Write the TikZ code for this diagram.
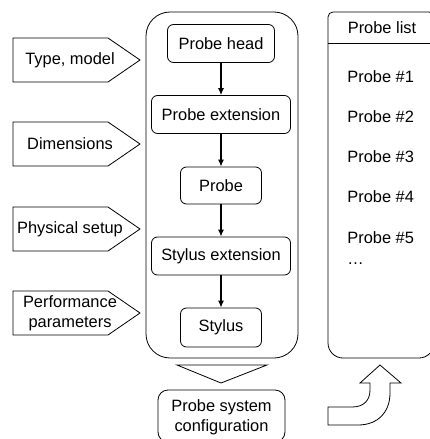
\documentclass[tikz,border=0pt]{standalone}
\usepackage{fontspec}
\setmainfont{Liberation Sans}
\usetikzlibrary{arrows.meta}
\begin{document}
\begin{tikzpicture}[x=1pt,y=-1pt,line width=0.8pt,
  txt/.style={font=\fontsize{16.4}{19.8}\selectfont, inner sep=0pt, align=center},
  part/.style={txt, draw, rounded corners=6pt},
  flow/.style={line width=1.2pt, -{Latex[length=7pt,width=6pt]}},
  listitem/.style={txt, anchor=west}]
\useasboundingbox (0,0) rectangle (430,439);
\clip (0,0) rectangle (430,439);

% input arrows (pentagons)
\foreach \t/\nm/\lab in {38/ta/{Type, model},122/tb/Dimensions,207/tc/{Physical setup},291/td/{Performance\\parameters}}{
  \draw (13,\t) -- (108,\t) -- (140,\t+22) -- (108,\t+44) -- (13,\t+44) -- cycle;
  \node[txt] (\nm) at (70,\t+22) {\lab};
}

% main container
\draw[rounded corners=24pt] (146,12) rectangle (298,358);

% parts
\node[part, minimum width=107pt, minimum height=38pt] (ph) at (221,43.5) {Probe head};
\node[part, minimum width=139pt, minimum height=38pt] (pe) at (221,114.5) {Probe extension};
\node[part, minimum width=81pt, minimum height=37pt] (pr) at (221,185.5) {Probe};
\node[part, minimum width=139pt, minimum height=38pt] (se) at (221,256) {Stylus extension};
\node[part, minimum width=81pt, minimum height=39pt] (st) at (221,327.5) {Stylus};

\draw[flow] (ph) -- (pe);
\draw[flow] (pe) -- (pr);
\draw[flow] (pr) -- (se);
\draw[flow] (se) -- (st);

% down triangle
\draw (177,365) -- (267,365) -- (221,383) -- cycle;

% configuration box
\draw[rounded corners=10pt] (158,390) rectangle (285,442);
\node[txt] (cfg) at (221.5,417) {Probe system\\configuration};

% probe list
\draw[rounded corners=15pt] (328,43) -- (328,358) -- (434,358) -- (434,43);
\draw[rounded corners=5pt] (328,43) -- (328,12) -- (434,12) -- (434,43);
\draw (328,43) -- (434,43);
\node[txt] (pl) at (382,28) {Probe list};
\node[listitem] (p1) at (347,77) {Probe \#1};
\node[listitem] (p2) at (347,117) {Probe \#2};
\node[listitem] (p3) at (347,157) {Probe \#3};
\node[listitem] (p4) at (347,197) {Probe \#4};
\node[listitem] (p5) at (347,238) {Probe \#5};
\node[listitem] (p6) at (347,264) {\dots};

% curved block arrow
\draw (328,407) -- (352,407) .. controls (364,407) and (370,400) .. (370,390)
  -- (370,383) -- (360,383) -- (380,365) -- (401,383) -- (390,383) -- (390,393)
  .. controls (390,412) and (378,425) .. (358,425) -- (328,425) -- cycle;
\end{tikzpicture}
\end{document}
